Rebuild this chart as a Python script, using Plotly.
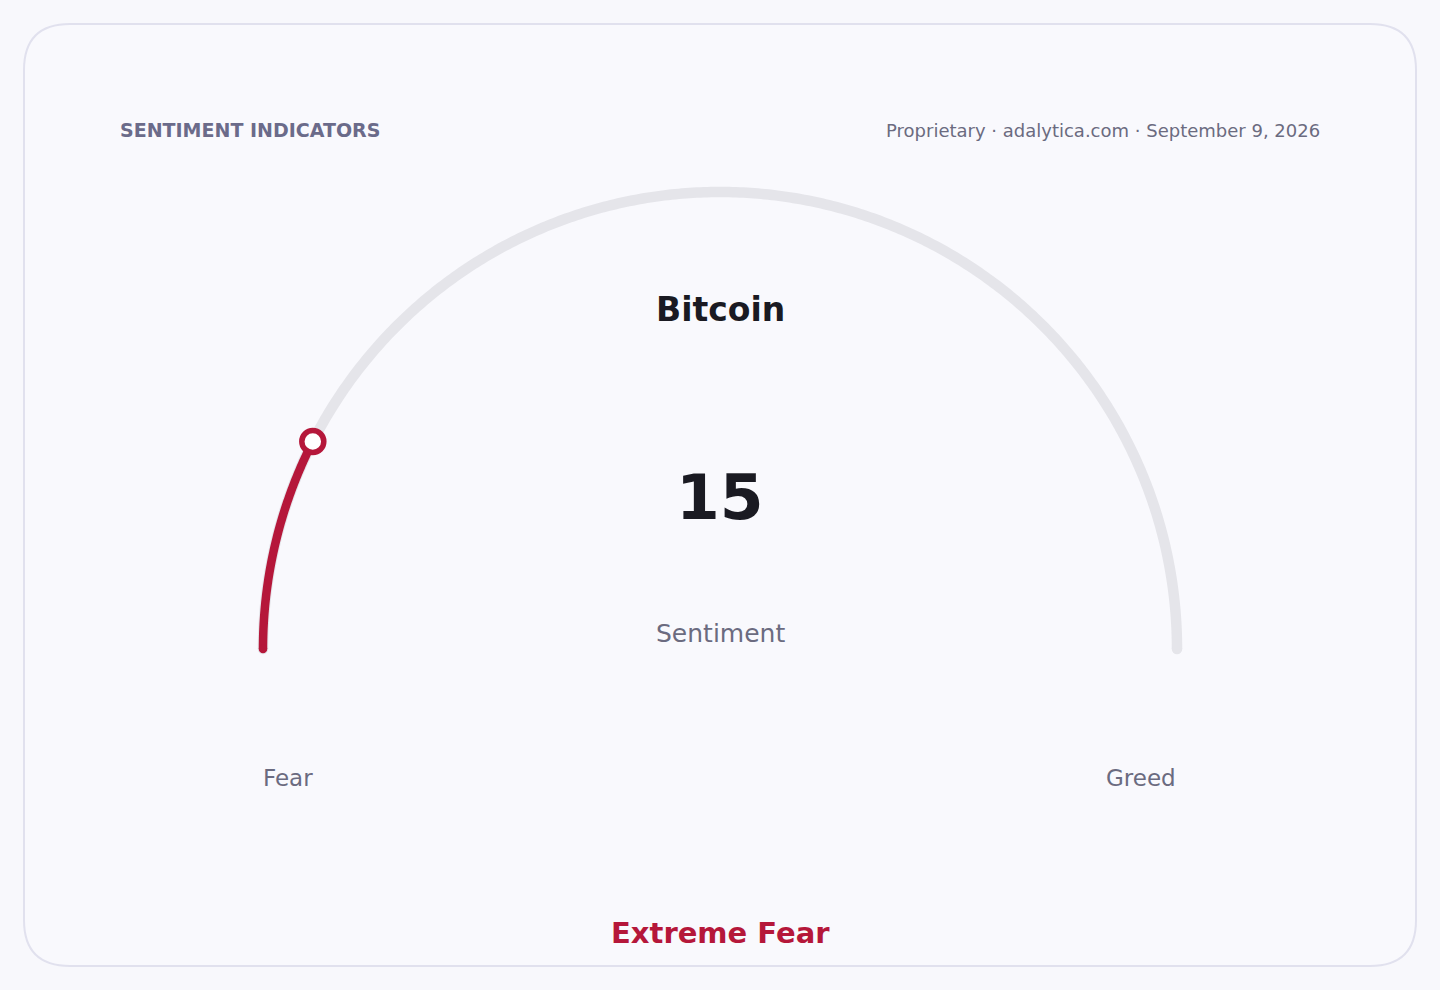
import numpy as np
import plotly.graph_objects as go

# gauge data
asset = "Bitcoin"
value = 15
vmin, vmax = 0, 100
zone_label = "Extreme Fear"
end_labels = ["Fear", "Greed"]
metric = "Sentiment"
header_left = "SENTIMENT INDICATORS"
header_right = "Proprietary · adalytica.com · September 9, 2026"

W, H = 1440, 990
cx, cy, r = 720, 649, 457
RED = "#b5173a"
TRACK = "#e5e5ea"
FONT = "DejaVu Sans"


def arc(frac0, frac1, n=400):
    a = np.radians(180 - 180 * np.linspace(frac0, frac1, n))
    return cx + r * np.cos(a), cy - r * np.sin(a)


frac = (value - vmin) / (vmax - vmin)

fig = go.Figure()

# background track
tx, ty = arc(0, 1)
fig.add_trace(go.Scatter(x=tx, y=ty, mode="lines",
                         line=dict(color=TRACK, width=10.5, simplify=False),
                         hoverinfo="skip"))
fig.add_trace(go.Scatter(x=[tx[0], tx[-1]], y=[ty[0], ty[-1]], mode="markers",
                         marker=dict(color=TRACK, size=10.5), hoverinfo="skip"))

# value arc
vx, vy = arc(0, frac, 120)
fig.add_trace(go.Scatter(x=vx, y=vy, mode="lines",
                         line=dict(color=RED, width=8.5, simplify=False),
                         hoverinfo="skip"))
fig.add_trace(go.Scatter(x=[vx[0]], y=[vy[0]], mode="markers",
                         marker=dict(color=RED, size=8.5), hoverinfo="skip"))
fig.add_trace(go.Scatter(x=[vx[-1]], y=[vy[-1]], mode="markers",
                         marker=dict(color="white", size=22, line=dict(color=RED, width=5.5)),
                         hoverinfo="skip"))

# card
x0, y0, x1, y1, rad = 24, 24, 1416, 966, 46
card = (f"M {x0+rad},{y0} L {x1-rad},{y0} Q {x1},{y0} {x1},{y0+rad} "
        f"L {x1},{y1-rad} Q {x1},{y1} {x1-rad},{y1} L {x0+rad},{y1} "
        f"Q {x0},{y1} {x0},{y1-rad} L {x0},{y0+rad} Q {x0},{y0} {x0+rad},{y0} Z")
fig.add_shape(type="path", path=card, xref="x", yref="y", layer="below",
              fillcolor="#f9f9fd", line=dict(color="#e1e1ee", width=2))


def txt(x, y, text, size, color, bold=False, anchor="center"):
    fig.add_annotation(x=x, y=y, xref="x", yref="y", text=f"<b>{text}</b>" if bold else text,
                       showarrow=False, xanchor=anchor, yanchor="middle",
                       font=dict(family=FONT, size=size, color=color))


txt(118, 130, header_left, 19, "#6b6b8a", bold=True, anchor="left")
txt(1322, 130, header_right, 18, "#6b6b80", anchor="right")
txt(720, 309, asset, 33, "#1a1a22", bold=True)
txt(720, 497, str(value), 63, "#1a1a22", bold=True)
txt(720, 633, metric, 25, "#6b6b80")
txt(288, 778, end_labels[0], 23, "#6b6b80")
txt(1141, 778, end_labels[1], 23, "#6b6b80")
txt(720, 933, zone_label, 29, RED, bold=True)

fig.update_layout(
    width=W, height=H,
    margin=dict(l=0, r=0, t=0, b=0),
    paper_bgcolor="#f8f8fc",
    plot_bgcolor="rgba(0,0,0,0)",
    showlegend=False,
    xaxis=dict(range=[0, W], visible=False, fixedrange=True),
    yaxis=dict(range=[H, 0], visible=False, fixedrange=True),
)

fig.write_html("out.html", config={"displayModeBar": False},
               post_script="document.body.style.margin='0';document.body.style.overflow='hidden';")
